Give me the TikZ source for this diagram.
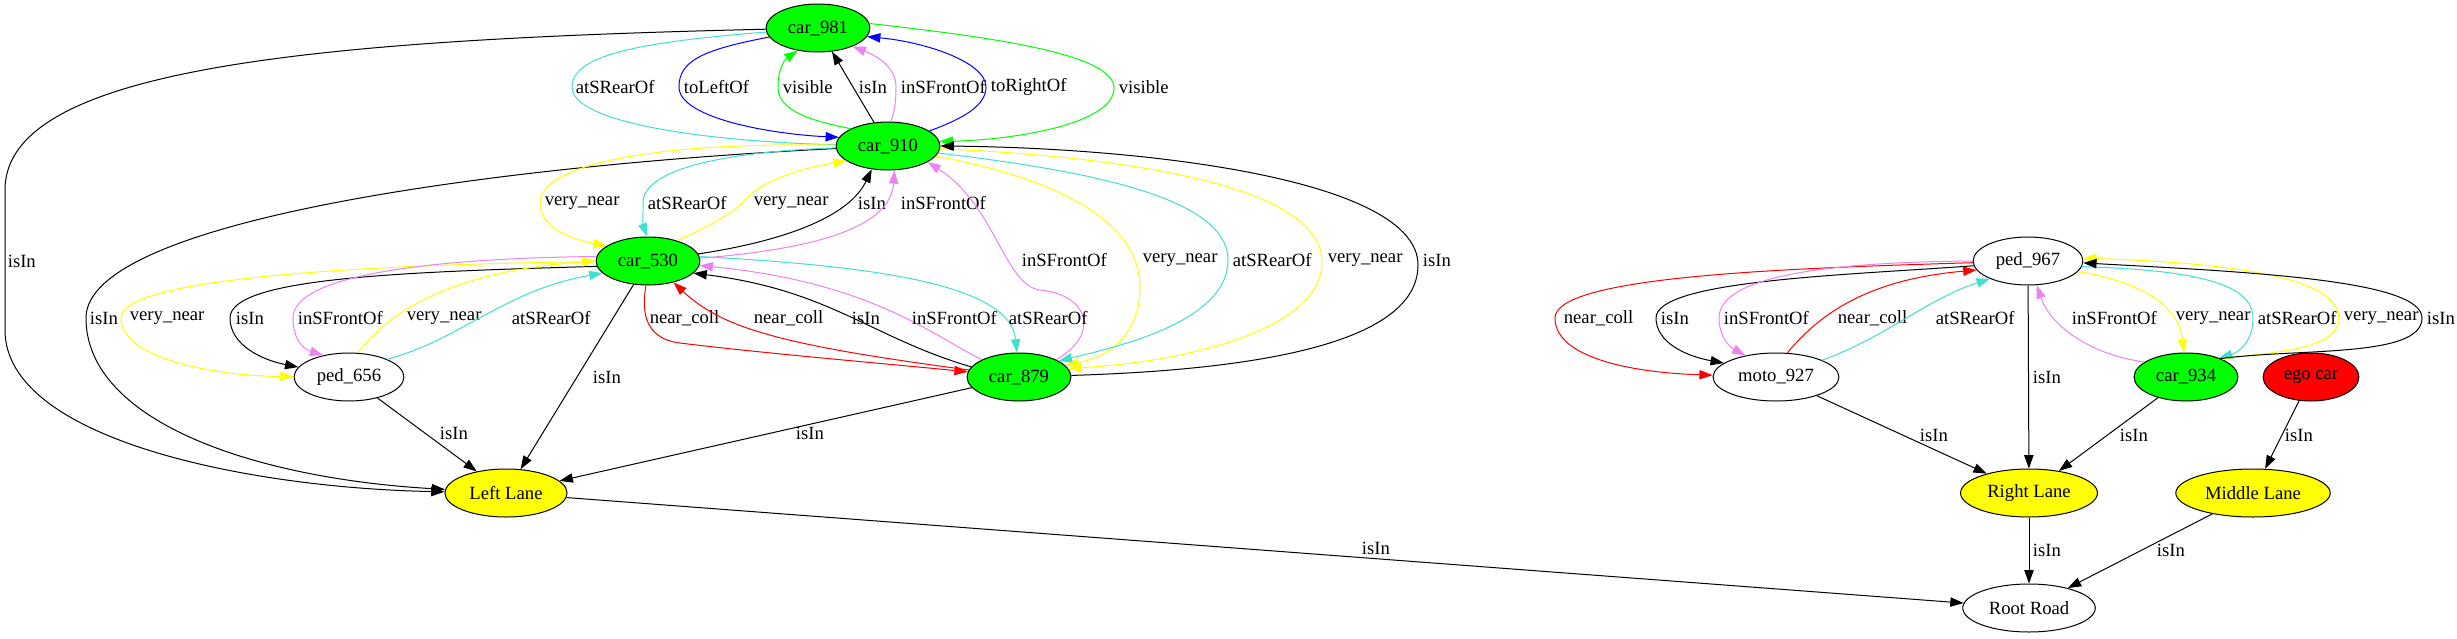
\documentclass[tikz,border=0pt]{standalone}
\usepackage{fontspec}
\setmainfont{Liberation Serif}
\usetikzlibrary{shapes.geometric,arrows.meta}
\definecolor{gvgreen}{HTML}{00FF00}
\definecolor{gvyellow}{HTML}{FFFF00}
\definecolor{gvred}{HTML}{FF0000}
\definecolor{gvblue}{HTML}{0000FF}
\definecolor{turq}{HTML}{40E0D0}
\definecolor{viol}{HTML}{EE82EE}
\newcommand{\gvfont}{\fontsize{14}{16}\selectfont}
\tikzstyle{obj} = [draw, ellipse, fill=white, minimum height=36pt, inner xsep=5pt, inner ysep=2pt, font=\gvfont]
\tikzstyle{car} = [obj, fill=gvgreen]
\tikzstyle{lane} = [obj, fill=gvyellow]
\tikzstyle{ego} = [obj, fill=gvred]
\tikzstyle{lbl} = [anchor=west, inner sep=1pt, font=\gvfont]
\tikzstyle{isin} = [draw=black]
\tikzstyle{vnear} = [draw=gvyellow]
\tikzstyle{srear} = [draw=turq]
\tikzstyle{sfront} = [draw=viol]
\tikzstyle{ncoll} = [draw=gvred]
\tikzstyle{tleft} = [draw=gvblue]
\tikzstyle{tright} = [draw=gvblue]
\tikzstyle{seen} = [draw=gvgreen]
\begin{document}
\begin{tikzpicture}[->,>={Triangle[length=10pt,width=7pt]},line width=0.75pt,x=0.75pt,y=-0.75pt]
\fill[white] (0,0) rectangle (2457,639);
\useasboundingbox (0,0) rectangle (2457,639);

% left scene
\node[car] (car981) at (818,28) {car\_981};
\node[car] (car910) at (888,146) {car\_910};
\node[car] (car530) at (648,261) {car\_530};
\node[obj] (ped656) at (349,377) {ped\_656};
\node[car] (car879) at (1019,377) {car\_879};
\node[lane] (leftlane) at (506,493) {Left Lane};
\node[obj] (rootroad) at (2029,608) {Root Road};

% right scene
\node[obj] (ped967) at (2028,261) {ped\_967};
\node[obj] (moto927) at (1776,377) {moto\_927};
\node[car] (car934) at (2186,377) {car\_934};
\node[ego] (egocar) at (2311,377) {ego car};
\node[lane] (rightlane) at (2029,493) {Right Lane};
\node[lane] (midlane) at (2253,493) {Middle Lane};

% car_981
\draw[isin] (car981) .. controls (300,40) and (5,70) .. (5,190) -- (5,330) .. controls (5,440) and (250,488) .. (leftlane) node[lbl] at (6,261) {isIn};
\draw[srear,-] (car981) .. controls (640,42) and (572,55) .. (572,87) .. controls (572,125) and (720,142) .. (car910) node[lbl] at (574,87) {atSRearOf};
\draw[tleft] (car981) .. controls (700,50) and (679,62) .. (679,87) .. controls (679,118) and (770,134) .. (car910.170) node[lbl] at (682,87) {toLeftOf};
\draw[seen] (car910.155) .. controls (795,118) and (778,105) .. (778,87) .. controls (778,70) and (784,60) .. (car981.-132) node[lbl] at (781,87) {visible};
\draw[isin] (car910) -- (car981) node[lbl] at (857,87) {isIn};
\draw[sfront] (car910.83) .. controls (895,110) and (896,100) .. (896,87) .. controls (896,70) and (882,58) .. (car981.-28) node[lbl] at (899,87) {inSFrontOf};
\draw[tright] (car910.20) .. controls (965,118) and (986,105) .. (986,87) .. controls (986,62) and (925,42) .. (car981.-10) node[lbl] at (989,87) {toRightOf};
\draw[seen] (car981.5) .. controls (1000,38) and (1114,55) .. (1114,88) .. controls (1114,125) and (1010,140) .. (car910.5) node[lbl] at (1117,87) {visible};

% car_910
\draw[isin] (car910) .. controls (500,165) and (86,220) .. (86,318) .. controls (86,420) and (250,478) .. (leftlane) node[lbl] at (88,318) {isIn};
\draw[vnear] (car910) .. controls (650,142) and (540,165) .. (540,203) .. controls (540,225) and (565,238) .. (car530.160) node[lbl] at (543,203) {very\_near};
\draw[srear] (car910) .. controls (720,152) and (643,170) .. (643,203) .. controls (643,215) and (643,225) .. (car530.92) node[lbl] at (646,203) {atSRearOf};
\draw[vnear] (car530.35) .. controls (712,225) and (735,212) .. (745,200) .. controls (760,182) and (800,168) .. (car910.-160) node[lbl] at (752,203) {very\_near};
\draw[isin] (car530.8) .. controls (790,240) and (850,215) .. (car910.-125) node[lbl] at (856,203) {isIn};
\draw[sfront] (car530.3) .. controls (800,250) and (890,232) .. (car910.-75) node[lbl] at (899,203) {inSFrontOf};
\draw[sfront] (car879.25) .. controls (1100,335) and (1090,295) .. (1040,290) .. controls (1005,286) and (995,205) .. (car910.-22) node[lbl] at (1020,260) {inSFrontOf};
\draw[vnear] (car910.-12) .. controls (1040,175) and (1140,215) .. (1140,287) .. controls (1140,330) and (1115,355) .. (car879.14) node[lbl] at (1141,260) {very\_near};
\draw[srear] (car910.-8) .. controls (1100,172) and (1228,200) .. (1228,260) .. controls (1228,320) and (1125,345) .. (car879.22) node[lbl] at (1231,260) {atSRearOf};
\draw[vnear] (car910.-3) .. controls (1150,158) and (1322,190) .. (1322,262) .. controls (1322,330) and (1185,362) .. (car879.10) node[lbl] at (1326,260) {very\_near};
\draw[isin] (car879) .. controls (1250,370) and (1418,345) .. (1418,265) .. controls (1418,180) and (1150,148) .. (car910.0) node[lbl] at (1421,260) {isIn};

% car_530
\draw[vnear] (car530) .. controls (400,264) and (121,275) .. (121,318) .. controls (121,360) and (220,376) .. (ped656) node[lbl] at (128,318) {very\_near};
\draw[isin] (car530.186) .. controls (400,272) and (230,278) .. (230,318) .. controls (230,345) and (262,360) .. (ped656) node[lbl] at (234,318) {isIn};
\draw[sfront] (car530.175) .. controls (450,258) and (293,272) .. (293,318) .. controls (293,335) and (300,348) .. (ped656.140) node[lbl] at (296,318) {inSFrontOf};
\draw[vnear] (ped656.70) .. controls (385,318) and (440,272) .. (car530.180) node[lbl] at (405,318) {very\_near};
\draw[srear] (ped656.25) .. controls (460,340) and (505,290) .. (car530.195) node[lbl] at (510,318) {atSRearOf};
\draw[isin] (car530) -- (leftlane) node[lbl] at (591,377) {isIn};
\draw[ncoll] (car530.-95) .. controls (643,305) and (640,338) .. (680,343) .. controls (760,353) and (900,365) .. (car879) node[lbl] at (648,318) {near\_coll};
\draw[ncoll] (car879.172) .. controls (780,345) and (722,328) .. (car530.-40) node[lbl] at (752,318) {near\_coll};
\draw[isin] (car879.168) .. controls (872,338) and (830,290) .. (car530.-15) node[lbl] at (850,318) {isIn};
\draw[sfront] (car879.155) .. controls (932,335) and (870,282) .. (car530.-5) node[lbl] at (910,318) {inSFrontOf};
\draw[srear] (car530.5) .. controls (850,265) and (1010,280) .. (car879.95) node[lbl] at (1007,318) {atSRearOf};

% lanes
\draw[isin] (ped656) -- (leftlane) node[lbl] at (438,433) {isIn};
\draw[isin] (car879) -- (leftlane) node[lbl] at (794,433) {isIn};
\draw[isin] (leftlane) -- (rootroad) node[lbl] at (1360,548) {isIn};

% ped_967
\draw[ncoll] (ped967) .. controls (1800,268) and (1555,275) .. (1555,318) .. controls (1555,360) and (1640,373) .. (moto927) node[lbl] at (1562,318) {near\_coll};
\draw[isin] (ped967.185) .. controls (1850,275) and (1656,280) .. (1656,318) .. controls (1656,342) and (1685,356) .. (moto927.165) node[lbl] at (1659,318) {isIn};
\draw[sfront] (ped967.180) .. controls (1850,262) and (1719,272) .. (1719,318) .. controls (1719,335) and (1728,346) .. (moto927.145) node[lbl] at (1722,318) {inSFrontOf};
\draw[ncoll] (moto927.65) .. controls (1815,320) and (1860,280) .. (ped967.190) node[lbl] at (1836,318) {near\_coll};
\draw[srear] (moto927.20) .. controls (1890,335) and (1925,300) .. (ped967.-155) node[lbl] at (1934,318) {atSRearOf};
\draw[isin] (ped967) -- (rightlane) node[lbl] at (2031,377) {isIn};
\draw[sfront] (car934.160) .. controls (2090,355) and (2050,325) .. (ped967.-70) node[lbl] at (2070,318) {inSFrontOf};
\draw[vnear] (ped967.-12) .. controls (2130,280) and (2178,300) .. (car934.95) node[lbl] at (2174,318) {very\_near};
\draw[srear] (ped967.-6) .. controls (2200,270) and (2253,285) .. (2253,318) .. controls (2253,340) and (2240,352) .. (car934.30) node[lbl] at (2256,318) {atSRearOf};
\draw[vnear] (car934.26) .. controls (2265,352) and (2339,352) .. (2339,318) .. controls (2339,272) and (2200,262) .. (ped967.3) node[lbl] at (2342,318) {very\_near};
\draw[isin] (car934.28) .. controls (2300,348) and (2422,358) .. (2422,318) .. controls (2422,280) and (2250,272) .. (ped967.-2) node[lbl] at (2425,318) {isIn};

\draw[isin] (moto927) -- (rightlane) node[lbl] at (1918,435) {isIn};
\draw[isin] (car934) -- (rightlane) node[lbl] at (2118,435) {isIn};
\draw[isin] (egocar) -- (midlane) node[lbl] at (2283,435) {isIn};
\draw[isin] (rightlane) -- (rootroad) node[lbl] at (2031,550) {isIn};
\draw[isin] (midlane) -- (rootroad) node[lbl] at (2155,550) {isIn};
\end{tikzpicture}
\end{document}
